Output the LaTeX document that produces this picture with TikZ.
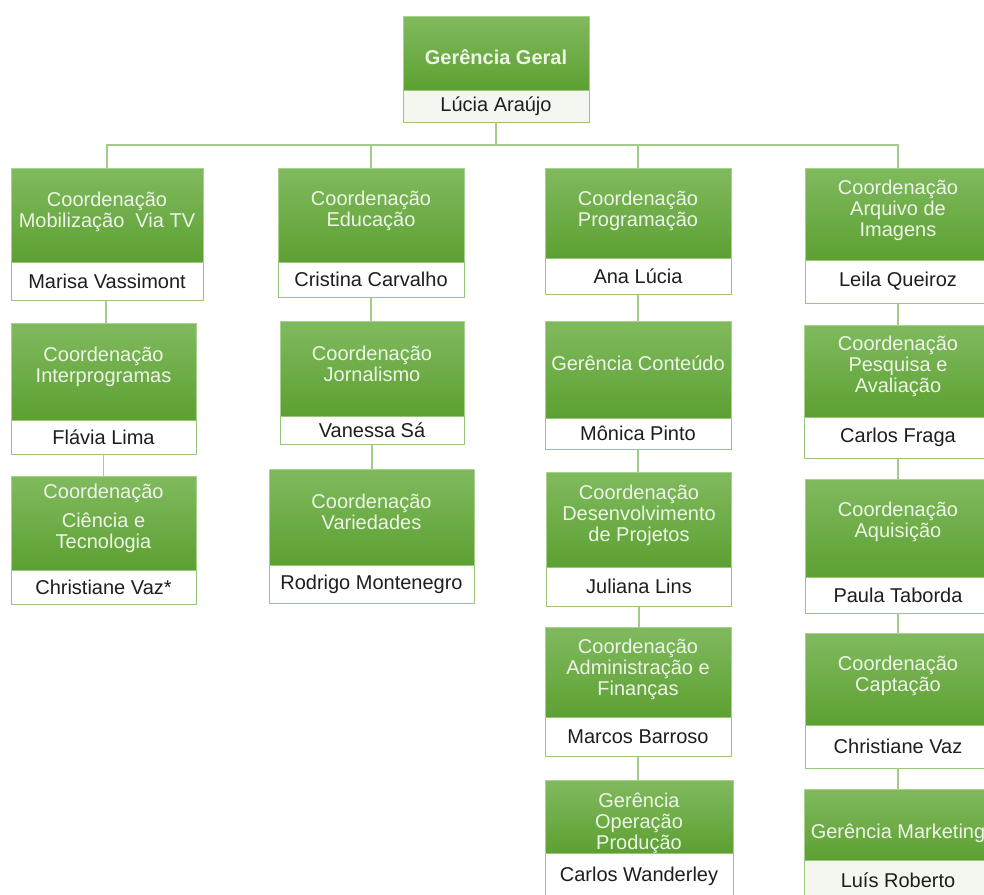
\documentclass[tikz,border=0pt]{standalone}
\usepackage{fontspec}
\setmainfont{Liberation Sans}
\definecolor{gtop}{HTML}{80BA5E}
\definecolor{gbot}{HTML}{5DA032}
\definecolor{gedge}{HTML}{A9D18E}
\definecolor{nedge}{HTML}{98C77B}
\definecolor{conn}{HTML}{A3CB8C}
\definecolor{ttext}{HTML}{EEF5E8}
\definecolor{ntext}{HTML}{1E1E1E}
\definecolor{tint}{HTML}{F3F7EF}
\tikzset{
  gbox/.style={draw=gedge, line width=0.8pt, top color=gtop, bottom color=gbot, inner sep=0pt, outer sep=0pt},
  nbox/.style={draw=nedge, line width=0.9pt, fill=white, inner sep=0pt, outer sep=0pt, text=ntext, font=\fontsize{20}{21}\selectfont},
  ttl/.style={text=ttext, align=center, inner sep=0pt, font=\fontsize{20}{21}\selectfont},
  link/.style={draw=conn, line width=1.3pt}
}
% id, cx, width, green top, green bottom, name bottom, title y, title, name
\newcommand\orgunit[9]{%
  \node[gbox, minimum width=#3pt, minimum height={(#5-#4)*1pt}] (#1g) at (#2,{(#4+#5)/2}) {};
  \node[ttl] (#1t) at (#2,{#7+2}) {#8};
  \node[nbox, minimum width=#3pt, minimum height={(#6-#5)*1pt}] (#1n) at (#2,{(#5+#6)/2}) {#9};
}
\begin{document}
\begin{tikzpicture}[x=1pt,y=-1pt]
\useasboundingbox (0,0) rectangle (984,894);
\fill[white] (0,0) rectangle (984,894);

% top
\orgunit{T}{496}{186}{16}{90}{122}{55}{\bfseries Gerência Geral}{Lúcia Araújo}
\path[nbox, fill=tint] (Tn.south west) rectangle (Tn.north east);
\node[nbox, draw=none, fill=none] at (Tn.center) {Lúcia Araújo};

% column 1
\orgunit{A1}{107}{192}{168}{262}{300}{209.5}{Coordenação\\Mobilização~~Via TV}{Marisa Vassimont}
\orgunit{A2}{103.5}{185}{323}{420}{454}{364.5}{Coordenação\\Interprogramas}{Flávia Lima}
\orgunit{A3}{103.5}{185}{476}{570}{604}{516}{Coordenação\\[8pt]Ciência e\\Tecnologia}{Christiane Vaz*}

% column 2
\orgunit{B1}{371}{186}{168}{262}{297}{208.5}{Coordenação\\Educação}{Cristina Carvalho}
\orgunit{B2}{372}{184}{321}{416}{444}{361.5}{Coordenação\\Jornalismo}{Vanessa Sá}
\orgunit{B3}{371.5}{205}{469}{565}{603}{509.5}{Coordenação\\Variedades}{Rodrigo Montenegro}

% column 3
\orgunit{P1}{638}{186}{168}{258}{294}{208.5}{Coordenação\\Programação}{Ana Lúcia}
\orgunit{P2}{638}{186}{321}{418}{449}{361}{Gerência Conteúdo}{Mônica Pinto}
\orgunit{P3}{639}{185}{472}{567}{606}{513}{Coordenação\\Desenvolvimento\\de Projetos}{Juliana Lins}
\orgunit{P4}{638}{186}{627}{717}{756}{667}{Coordenação\\Administração e\\Finanças}{Marcos Barroso}
\orgunit{P5}{639}{188}{780}{853}{900}{821}{Gerência\\Operação\\Produção}{Carlos Wanderley}

% column 4
\orgunit{R1}{898}{186}{168}{260}{303}{208}{Coordenação\\Arquivo de\\Imagens}{Leila Queiroz}
\orgunit{R2}{898}{188}{325}{417}{458}{364}{Coordenação\\Pesquisa e\\Avaliação}{Carlos Fraga}
\orgunit{R3}{898}{186}{479}{577}{613}{520}{Coordenação\\Aquisição}{Paula Taborda}
\orgunit{R4}{898}{186}{633}{725}{768}{674}{Coordenação\\Captação}{Christiane Vaz}
\orgunit{R5}{898}{188}{789}{860}{900}{831}{Gerência Marketing}{Luís Roberto}
\path[nbox, fill=tint] (R5n.south west) rectangle (R5n.north east);
\node[nbox, draw=none, fill=none] at (R5n.center) {Luís Roberto};

% connectors
\coordinate (bus) at (496,145);
\draw[link] (Tn.south) -- (Tn.south |- bus);
\draw[link] (A1g.north) -- (A1g.north |- bus) -- (R1g.north |- bus) -- (R1g.north);
\draw[link] (B1g.north) -- (B1g.north |- bus);
\draw[link] (P1g.north) -- (P1g.north |- bus);

\draw[link] ([xshift=-1pt]A1n.south) -- ([xshift=-1pt]A1n.south |- A2g.north);
\draw[link] (A2n.south) -- (A2n.south |- A3g.north);
\draw[link] (B1n.south) -- (B1n.south |- B2g.north);
\draw[link] (B2n.south) -- (B2n.south |- B3g.north);
\draw[link] (P1n.south) -- (P1n.south |- P2g.north);
\draw[link] (P2n.south) -- (P2n.south |- P3g.north);
\draw[link] (P3n.south) -- (P3n.south |- P4g.north);
\draw[link] (P4n.south) -- (P4n.south |- P5g.north);
\draw[link] (R1n.south) -- (R1n.south |- R2g.north);
\draw[link] (R2n.south) -- (R2n.south |- R3g.north);
\draw[link] (R3n.south) -- (R3n.south |- R4g.north);
\draw[link] (R4n.south) -- (R4n.south |- R5g.north);
\end{tikzpicture}
\end{document}
